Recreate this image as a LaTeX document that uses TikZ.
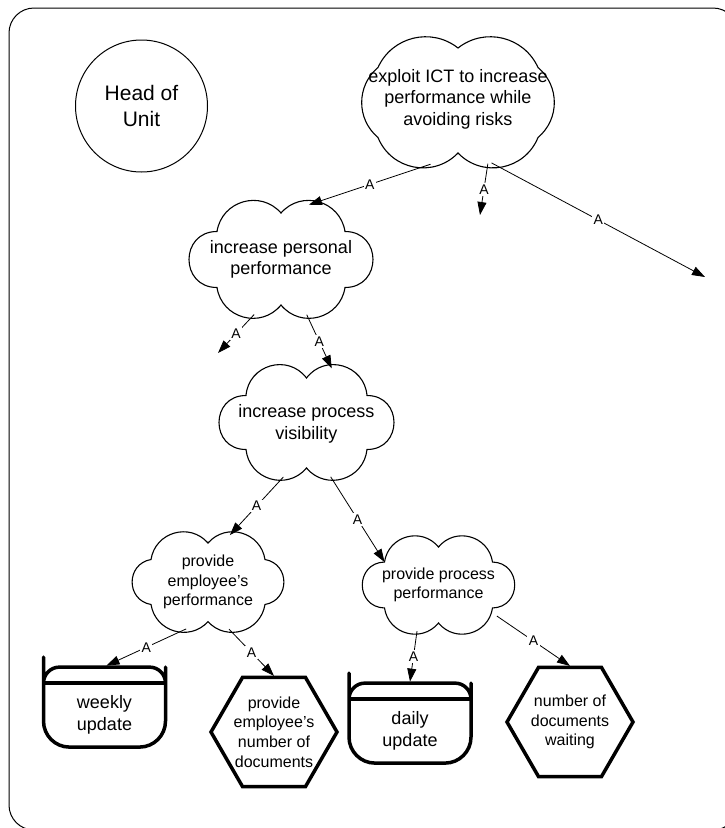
\documentclass[tikz,border=0pt]{standalone}
\usepackage{fontspec}
\setmainfont{Liberation Sans}
\usetikzlibrary{shapes.geometric,arrows.meta,calc}
% #1 node, #2 side cusp x, #3 side cusp y, #4 top cusp, #5 bottom cusp (pt),
% #6 top lobe angle, #7 side lobe angle, #8 bottom lobe angle
\newcommand\cloudoutline[8]{%
  \pgfmathsetmacro\cldft{(2/3)*tan(#6/2)/sin(#6)}%
  \pgfmathsetmacro\cldfs{(2/3)*tan(#7/2)/sin(#7)}%
  \pgfmathsetmacro\cldfb{(2/3)*tan(#8/2)/sin(#8)}%
  \coordinate (#1T) at ([yshift=#4pt]#1.center);
  \coordinate (#1B) at ([yshift=-#5pt]#1.center);
  \coordinate (#1UR) at ([shift={(#2pt,#3pt)}]#1.center);
  \coordinate (#1LR) at ([shift={(#2pt,-#3pt)}]#1.center);
  \coordinate (#1LL) at ([shift={(-#2pt,-#3pt)}]#1.center);
  \coordinate (#1UL) at ([shift={(-#2pt,#3pt)}]#1.center);
  \draw[cloudline] (#1T)
    .. controls ($(#1T)!\cldft!#6:(#1UR)$) and ($(#1UR)!\cldft!-#6:(#1T)$) .. (#1UR)
    .. controls ($(#1UR)!\cldfs!#7:(#1LR)$) and ($(#1LR)!\cldfs!-#7:(#1UR)$) .. (#1LR)
    .. controls ($(#1LR)!\cldfb!#8:(#1B)$) and ($(#1B)!\cldfb!-#8:(#1LR)$) .. (#1B)
    .. controls ($(#1B)!\cldfb!#8:(#1LL)$) and ($(#1LL)!\cldfb!-#8:(#1B)$) .. (#1LL)
    .. controls ($(#1LL)!\cldfs!#7:(#1UL)$) and ($(#1UL)!\cldfs!-#7:(#1LL)$) .. (#1UL)
    .. controls ($(#1UL)!\cldft!#6:(#1T)$) and ($(#1T)!\cldft!-#6:(#1UL)$) .. (#1T) -- cycle;}
\begin{document}
\begin{tikzpicture}[x=1pt,y=-1pt,
  cloudbase/.style={ellipse, inner sep=0pt, outer sep=0pt},
  cloudline/.style={draw, line width=1.1pt, line join=miter},
  ctext/.style={font=\fontsize{18}{21.5}\selectfont, align=center, inner sep=0pt},
  stext/.style={font=\fontsize{16}{19.5}\selectfont, align=center, inner sep=0pt},
  htext/.style={font=\fontsize{16}{19.7}\selectfont, align=center, inner sep=0pt},
  hexa/.style={regular polygon, regular polygon sides=6, draw, line width=3.5pt,
    minimum size=126pt, inner sep=0pt, outer sep=1.5pt},
  boxnode/.style={rectangle, minimum width=122pt, minimum height=64pt, inner sep=0pt,
    outer sep=0pt, align=center, font=\fontsize{18}{22}\selectfont},
  boxline/.style={line width=3.5pt, line join=round},
  arr/.style={draw, line width=0.8pt, -{Triangle[length=13pt,width=9pt]}},
  lab/.style={fill=white, font=\fontsize{14}{14}\selectfont, inner sep=1.5pt}
]
\useasboundingbox (0,0) rectangle (725,828);
% frame
\draw[line width=1pt, rounded corners=25pt] (9,8) rectangle (738,830);

% actor
\node[circle, draw, line width=1pt, minimum size=132pt, inner sep=0pt,
  font=\fontsize{21}{26}\selectfont, align=center] (hu) at (141.5,106) {Head of\\Unit};

% goals (clouds)
\node[cloudbase, minimum width=190pt, minimum height=129pt,
  label={[ctext, yshift=3.5pt]center:{exploit ICT to increase\\performance while\\avoiding risks}}] (c1) at (458,102.5) {};
\cloudoutline{c1}{80}{35}{54.5}{50.5}{52}{50}{57}
\node[cloudbase, minimum width=184pt, minimum height=115pt,
  label={[ctext]center:{increase personal\\performance}}] (c2) at (281,259.5) {};
\cloudoutline{c2}{64}{28}{46.5}{45.5}{65}{90}{66}
\node[cloudbase, minimum width=175pt, minimum height=113pt,
  label={[ctext, yshift=-1.5pt]center:{increase process\\visibility}}] (c3) at (306.5,422.5) {};
\cloudoutline{c3}{60.5}{27}{44.5}{45.5}{69}{90}{67}
\node[cloudbase, minimum width=152pt, minimum height=98pt,
  label={[stext]center:{provide\\employee's\\performance}}] (c4) at (208,582) {};
\cloudoutline{c4}{57}{22.5}{39}{39.7}{65}{80}{64}
\node[cloudbase, minimum width=153pt, minimum height=96pt,
  label={[stext]center:{provide process\\performance}}] (c5) at (438.5,585) {};
\cloudoutline{c5}{54}{23}{38}{38}{66}{88}{66}

% resources (boxes)
\node[boxnode] (b1) at (104.5,715.1) {weekly\\update};
\draw[boxline] ([yshift=16pt]b1.north) [rounded corners=16pt] -| (b1.north east)
  [rounded corners=26pt] |- (b1.south) -| (b1.north west)
  [rounded corners=16pt] |- ([yshift=16pt]b1.north);
\draw[boxline] (b1.north west) -- (b1.north east);

\node[boxnode] (b2) at (410,731.1) {daily\\update};
\draw[boxline] ([yshift=16pt]b2.north) [rounded corners=16pt] -| (b2.north east)
  [rounded corners=26pt] |- (b2.south) -| (b2.north west)
  [rounded corners=16pt] |- ([yshift=16pt]b2.north);
\draw[boxline] (b2.north west) -- (b2.north east);

% tasks (hexagons)
\node[hexa, label={[htext]center:{provide\\employee's\\number of\\documents}}] (h1) at (274,732) {};
\node[hexa, label={[htext]center:{number of\\documents\\waiting}}] (h2) at (570,722) {};

% free ends
\coordinate (f1) at (480,215);
\coordinate (f2) at (705,277);
\coordinate (f3) at (218,353);

% connectors
\draw[arr] (c1.246) -- node[lab]{A} (c2.63);
\draw[arr] (c1.296) -- node[lab]{A} (f1);
\draw[arr] (c1.299) -- node[lab]{A} (f2);
\draw[arr] (c2.244) -- node[lab]{A} (f3);
\draw[arr] (c2.295) -- node[lab]{A} (c3.65);
\draw[arr] (c3.247) -- node[lab]{A} (c4.65);
\draw[arr] (c3.294) -- node[lab]{A} (c5UL);
\draw[arr] (c4.245) -- node[lab]{A} ([xshift=2pt,yshift=17.5pt]b1.north);
\draw[arr] (c4.294) -- node[lab]{A} (h1.north);
\draw[arr] (c5.245) -- node[lab]{A} ([yshift=17.5pt]b2.north);
\draw[arr] (c5.332) -- node[lab]{A} (h2.north);
\end{tikzpicture}
\end{document}
